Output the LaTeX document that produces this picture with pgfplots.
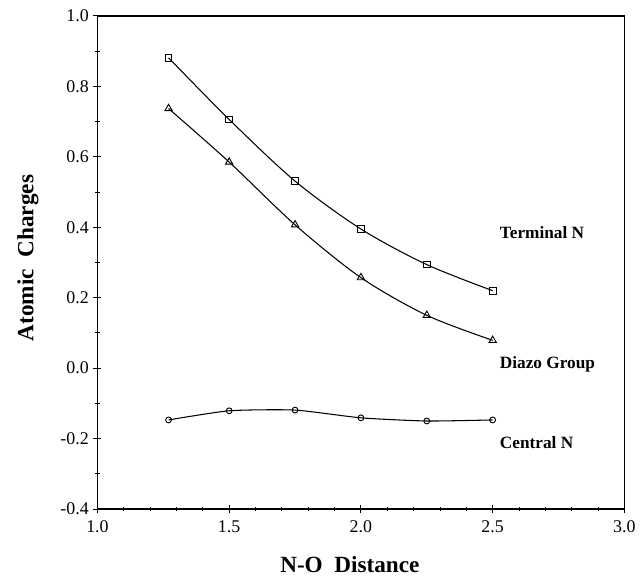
\documentclass[border=0pt]{standalone}
\usepackage{pgfplots}
\pgfplotsset{compat=1.18}
\usepackage{fontspec}
\setmainfont{Liberation Serif}
\begin{document}
\begin{tikzpicture}
\begin{axis}[
  name=ax,
  scale only axis,
  width=397.5pt, height=372pt,
  xmin=1, xmax=3, ymin=-0.4, ymax=1.0,
  xtick={1,1.5,...,3}, ytick={-0.4,-0.2,...,1.0},
  minor x tick num=4, minor y tick num=1,
  xticklabel style={yshift=-2pt, /pgf/number format/.cd,fixed,fixed zerofill,precision=1},
  yticklabel style={/pgf/number format/.cd,fixed,fixed zerofill,precision=1},
  /pgf/number format/assume math mode=true,
  tick align=center,
  xtick pos=bottom, ytick pos=left,
  major tick length=6pt, minor tick length=3.5pt,
  tick style={black, line width=0.7pt},
  axis line style={line width=1pt},
  ticklabel style={font=\fontsize{13.5}{15}\selectfont},
  clip=false,
]
\addplot[black, line width=0.8pt, smooth, mark=square, mark size=2.5pt, mark options={solid, line width=0.7pt}]
  coordinates {(1.27,0.881) (1.5,0.706) (1.75,0.531) (2.0,0.395) (2.25,0.294) (2.5,0.220)};
\addplot[black, line width=0.8pt, smooth, mark=triangle, mark size=3.2pt, mark options={solid, line width=0.7pt}]
  coordinates {(1.27,0.737) (1.5,0.585) (1.75,0.407) (2.0,0.257) (2.25,0.150) (2.5,0.079)};
\addplot[black, line width=0.8pt, smooth, tension=0.35, mark=o, mark size=2.2pt, mark options={solid, line width=0.7pt}]
  coordinates {(1.27,-0.147) (1.5,-0.121) (1.75,-0.119) (2.0,-0.141) (2.25,-0.150) (2.5,-0.147)};
\node[anchor=west, font=\fontsize{13}{15}\selectfont\bfseries] at (axis cs:2.51,0.384) {Terminal N};
\node[anchor=west, font=\fontsize{13}{15}\selectfont\bfseries] at (axis cs:2.51,0.011) {Diazo Group};
\node[anchor=west, font=\fontsize{13}{15}\selectfont\bfseries] at (axis cs:2.51,-0.212) {Central N};
\node[font=\fontsize{17.5}{20}\selectfont\bfseries, xshift=-52.5pt, rotate=90] at (rel axis cs:0,0.509) {Atomic\ \ Charges};
\node[font=\fontsize{17.5}{20}\selectfont\bfseries, yshift=-42pt] at (rel axis cs:0.479,0) {N-O\ \ Distance};
\end{axis}
\path ([shift={(-73.5pt,-49.5pt)}]ax.south west) rectangle ([shift={(9pt,12pt)}]ax.north east);
\end{tikzpicture}
\end{document}
